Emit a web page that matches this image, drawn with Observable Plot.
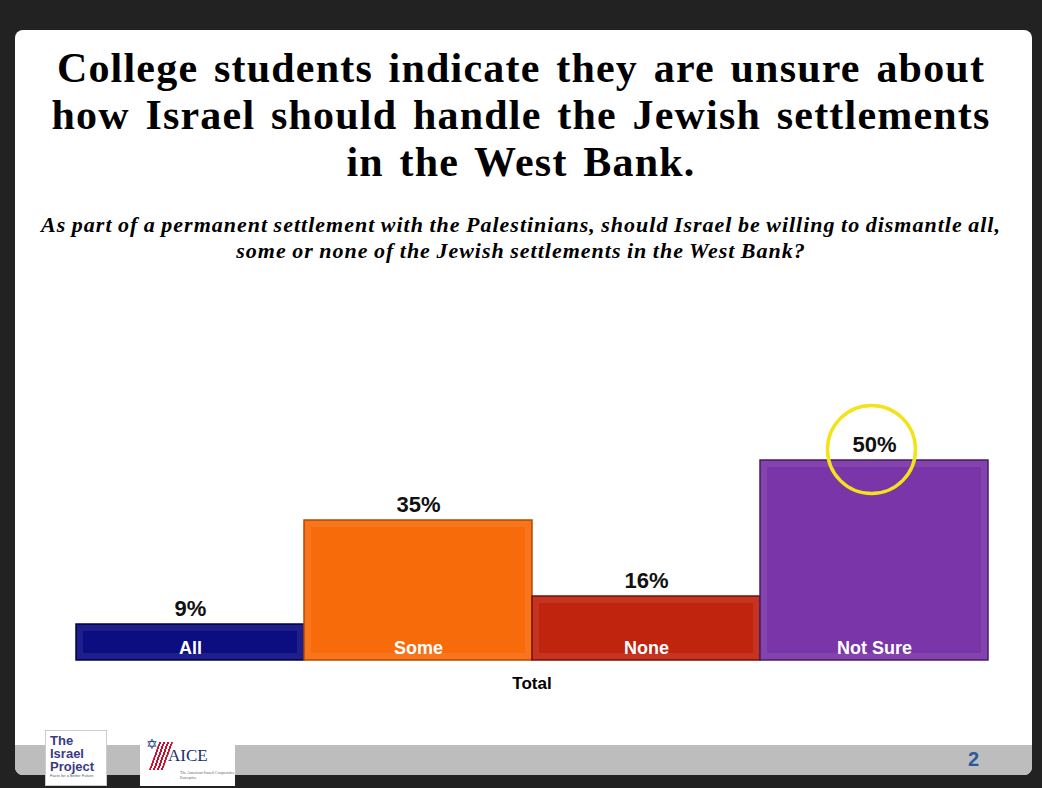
<!DOCTYPE html>
<html>
<head>
<meta charset="utf-8">
<script src="https://cdn.jsdelivr.net/npm/d3@7"></script>
<script src="https://cdn.jsdelivr.net/npm/@observablehq/plot@0.6"></script>
<style>
  html, body { margin: 0; padding: 0; background: #222222; }
  #page { position: relative; width: 1042px; height: 788px; overflow: hidden; background: #222222; }
  #slide { position: absolute; left: 15px; top: 30px; width: 1017px; height: 745px; background: #ffffff; border-radius: 8px; overflow: hidden; }
  #band { position: absolute; left: 0; bottom: 0; width: 100%; height: 30px; background: #bdbdbd; }
  #title { position: absolute; left: 0; top: 45px; width: 1042px; text-align: center; font-family: "Liberation Serif", "Times New Roman", serif; font-weight: bold; font-size: 42px; line-height: 47px; letter-spacing: 1.2px; word-spacing: 4px; color: #000; }
  #subtitle { position: absolute; left: 0; top: 212px; width: 1042px; text-align: center; font-family: "Liberation Serif", "Times New Roman", serif; font-weight: bold; font-style: italic; font-size: 22px; line-height: 26px; letter-spacing: 1px; word-spacing: -1px; color: #000; }
  #chart { position: absolute; left: 0; top: 280px; }
  #logo1 { position: absolute; left: 45px; top: 730px; width: 62px; height: 56px; background: #fff; border: 1px solid #ccc; font-family: "Liberation Sans", Arial, sans-serif; font-weight: bold; font-size: 13px; line-height: 13px; color: #3a3a86; padding: 3px 0 0 4px; box-sizing: border-box; }
  #logo1 small { display: block; font-size: 4px; line-height: 6px; color: #555; font-weight: normal; }
  #logo2 { position: absolute; left: 140px; top: 734px; width: 95px; height: 52px; background: #fff; font-family: "Liberation Serif", serif; font-size: 17px; color: #1a2f6e; box-sizing: border-box; padding: 12px 0 0 28px; }
  #logo2 .star { position: absolute; left: 6px; top: 2px; font-size: 14px; color: #1a3a8e; }
  #logo2 .stripes { position: absolute; left: 14px; top: 8px; width: 14px; height: 28px; background: repeating-linear-gradient(90deg, #c8102e 0 2px, #fff 2px 4px); transform: skewX(-20deg); }
  #logo2 small { position: absolute; left: 40px; top: 36px; font-size: 4px; color: #666; }
  #pagenum { position: absolute; left: 968px; top: 748px; font-family: "Liberation Sans", Arial, sans-serif; font-weight: bold; font-size: 20px; color: #2a5a9a; }
</style>
</head>
<body>
<div id="page">
  <div id="slide"><div id="band"></div></div>
  <div id="title">College students indicate they are unsure about<br>how Israel should handle the Jewish settlements<br>in the West Bank.</div>
  <div id="subtitle">As part of a permanent settlement with the Palestinians, should Israel be willing to dismantle all,<br>some or none of the Jewish settlements in the West Bank?</div>
  <div id="chart"></div>
  <div id="logo1">The<br>Israel<br>Project<small>Facts for a Better Future</small></div>
  <div id="logo2"><span class="star">✡</span><span class="stripes"></span>AICE<small>The American-Israeli Cooperative Enterprise</small></div>
  <div id="pagenum">2</div>
</div>
<script>
const categories = ["All", "Some", "None", "Not Sure"];
const values = [9, 35, 16, 50];
const colors = ["#0d0d82", "#f76b0a", "#c0230e", "#7a35a8"];
const strokes = ["#05054a", "#b84a00", "#7a1406", "#4a1e6a"];
const valueLabels = ["9%", "35%", "16%", "50%"];
const axisLabel = "Total";
const highlighted = "Not Sure";

const data = categories.map((c, i) => ({category: c, value: values[i], color: colors[i], stroke: strokes[i], label: valueLabels[i]}));

const chart = Plot.plot({
  width: 1042,
  height: 430,
  marginLeft: 75,
  marginRight: 54,
  marginTop: 180,
  marginBottom: 50,
  x: {domain: categories, padding: 0, axis: null},
  y: {domain: [0, 50], axis: null},
  style: {fontFamily: "Liberation Sans, Arial, sans-serif", background: "transparent"},
  marks: [
    Plot.barY(data, {x: "category", y: "value", fill: "color", stroke: "stroke", strokeWidth: 1.5}),
    Plot.barY(data, {x: "category", y: "value", fill: "none", stroke: "#ffffff", strokeOpacity: 0.08, strokeWidth: 6, inset: 4}),
    Plot.text(data, {x: "category", y: "value", text: "label", dy: -16, fontSize: 22, fontWeight: "bold", fill: "#111"}),
    Plot.text(data, {x: "category", y: 0, text: "category", dy: -12, fontSize: 18, fontWeight: "bold", fill: "#ffffff"}),
    Plot.text([axisLabel], {frameAnchor: "bottom", dy: 28, fontSize: 17, fontWeight: "bold", fill: "#000"}),
    Plot.dot(data.filter(d => d.category === highlighted), {x: "category", y: "value", dy: -11, dx: -3, r: 44, stroke: "#f2e31a", strokeWidth: 3.5, fill: "none"})
  ]
});
document.getElementById("chart").appendChild(chart);
</script>
</body>
</html>
